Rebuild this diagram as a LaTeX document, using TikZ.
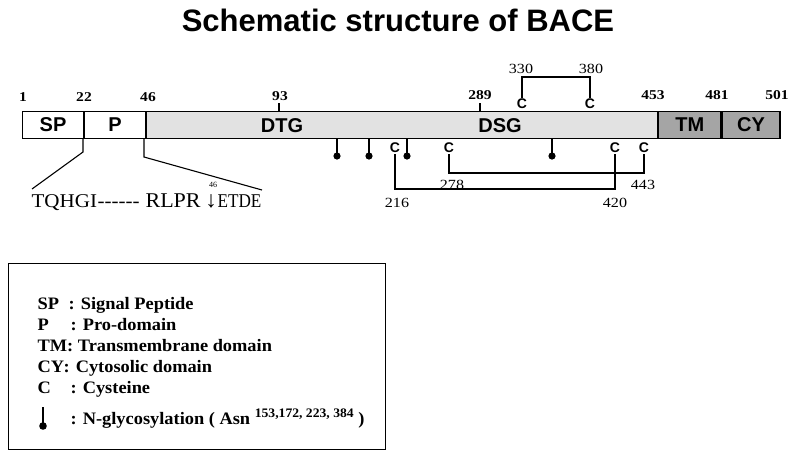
\documentclass[tikz,border=0pt]{standalone}
\usepackage{fontspec}
\setmainfont{Liberation Serif}
\newfontfamily\sansf{Liberation Sans}
\newfontfamily\legf[FakeStretch=1.05]{Liberation Serif}
\newfontfamily\numf[FakeStretch=1.15]{Liberation Serif}
\newfontfamily\seqf[FakeStretch=1.08]{Liberation Serif}
\newfontfamily\seqg[FakeStretch=0.88]{Liberation Serif}
\begin{document}
\begin{tikzpicture}[x=1pt,y=-1pt,
  line width=1.1pt,
  seg/.style={draw, line width=1.1pt, minimum height=27pt, inner sep=0pt, anchor=west},
  barlab/.style={font=\sansf\bfseries\fontsize{20}{20}\selectfont, inner sep=0pt},
  posn/.style={font=\numf\bfseries\fontsize{13.5}{14}\selectfont, inner sep=0pt},
  numlab/.style={font=\numf\fontsize{14}{14}\selectfont, inner sep=0pt},
  cys/.style={font=\sansf\bfseries\fontsize{14}{14}\selectfont, inner sep=0.5pt},
  leg/.style={font=\legf\bfseries\fontsize{17.5}{18}\selectfont, inner sep=0pt, anchor=base west},
  seq/.style={font=\seqf\fontsize{19.5}{20}\selectfont, inner sep=0pt, anchor=base west},
  pin/.style={line width=1.1pt},
]
\useasboundingbox (0,0) rectangle (788,451);
\definecolor{lightseg}{RGB}{226,226,226}
\definecolor{darkseg}{RGB}{165,165,165}

% title
\node[font=\sansf\bfseries\fontsize{31}{32}\selectfont, inner sep=0pt] (title) at (398,20) {Schematic structure of BACE};

% bar
\node[seg, minimum width=61pt, fill=white] (sp) at (22,125) {};
\node[seg, minimum width=61pt, fill=white] (p) at (sp.east) {};
\node[seg, minimum width=511pt, fill=lightseg] (cat) at (p.east) {};
\node[seg, minimum width=62pt, fill=darkseg] (tm) at (cat.east) {};
\node[seg, minimum width=58pt, fill=darkseg] (cy) at (tm.east) {};
\node[barlab] (lsp) at (sp.center) {SP};
\node[barlab] (lp) at (p.center) {P};
\node[barlab] (ldtg) at (282,126) {DTG};
\node[barlab] (ldsg) at (500,126) {DSG};
\node[barlab] (ltm) at (tm.center) {TM};
\node[barlab] (lcy) at (cy.center) {CY};

% position numbers
\node[posn] (n1) at (23,97) {1};
\node[posn] (n22) at (84,97) {22};
\node[posn] (n46) at (148,97) {46};
\node[posn] (n93) at (280,96) {93};
\node[posn] (n289) at (480,95) {289};
\node[posn] (n453) at (653,95) {453};
\node[posn] (n481) at (717,95) {481};
\node[posn] (n501) at (777,95) {501};
\draw (279,111.5) -- (279,103);
\draw (480,111.5) -- (480,103);

% top cysteines
\node[cys] (c330) at (522,104) {C};
\node[cys] (c380) at (590,104) {C};
\draw (c330.north) -- (522,77) -| (c380.north);
\node[numlab] (n330) at (521,69) {330};
\node[numlab] (n380) at (591,69) {380};

% bottom cysteines
\node[cys] (c216) at (395,148) {C};
\node[cys] (c278) at (449,148) {C};
\node[cys] (c420) at (615,148) {C};
\node[cys] (c443) at (644,148) {C};
\draw (c278.south) -- (c278.south |- 0,173) -| (c443.south);
\draw (c216.south) -- (c216.south |- 0,189) -| (c420.south);
\node[numlab] (n216) at (397,203) {216};
\node[numlab] (n278) at (452,185) {278};
\node[numlab] (n443) at (643,185) {443};
\node[numlab] (n420) at (615,203) {420};

% glycosylation pins
\foreach \x/\nm in {337/g153,369/g172,407/g223,552/g384}{
  \coordinate (\nm) at (\x,138.5);
  \draw[pin] (\nm) -- ++(0,17);
  \fill (\x,156) circle (3.6pt);
}

% propeptide sequence
\coordinate (d22) at (83,138.5);
\coordinate (d46) at (144,138.5);
\node[seq] (sq1) at (31,207) {TQHGI};
\node[seq] (sq2) at (97,207) {{-}{-}{-}{-}{-}{-}};
\node[seq, font=\legf\fontsize{21}{21}\selectfont] (sq3) at (145,207) {RLPR};
\node[seq, anchor=base, font=\fontsize{23}{23}\selectfont] (sq4) at (211,207) {↓};
\node[seq, font=\seqg\fontsize{19.5}{20}\selectfont] (sq5) at (217,207) {ETDE};
\node[font=\fontsize{8}{8}\selectfont, inner sep=0pt] (n46b) at (213,185) {46};
\draw (d22) -- (83,152) -- (32,189);
\draw (d46) -- (144,157) -- (262,190);

% legend
\node[draw, line width=1.1pt, minimum width=377pt, minimum height=186pt, anchor=north west, inner sep=0pt] (legend) at (8,263) {};
\node[leg] (l1a) at (37,309) {SP};
\node[leg] (l1b) at (68,309) {: Signal Peptide};
\node[leg] (l2a) at (37,330) {P};
\node[leg] (l2b) at (70,330) {: Pro-domain};
\node[leg] (l3a) at (37,351) {TM: Transmembrane domain};
\node[leg] (l4a) at (37,372) {CY};
\node[leg] (l4b) at (63,372) {: Cytosolic domain};
\node[leg] (l5a) at (37,393) {C};
\node[leg] (l5b) at (70,393) {: Cysteine};
\coordinate (lg) at (43,407);
\draw (lg) -- ++(0,17);
\fill (43,426) circle (3.8pt);
\node[leg] (l6b) at (70,424) {: N-glycosylation ( Asn \raisebox{6.5pt}{\fontsize{13}{13}\selectfont 153,172, 223, 384} )};
\end{tikzpicture}
\end{document}
